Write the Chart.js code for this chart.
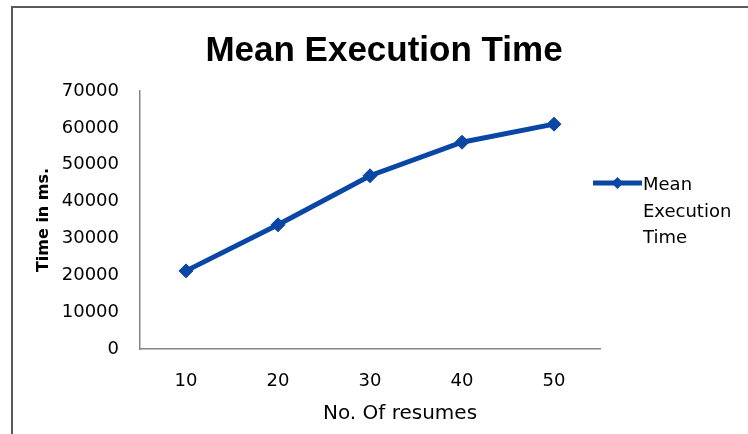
<!DOCTYPE html>
<html>
<head>
<meta charset="utf-8">
<script src="https://cdn.jsdelivr.net/npm/chart.js@4"></script>
<style>
  html, body { margin: 0; padding: 0; background: #fff; overflow: hidden; }
  #wrap { position: relative; width: 748px; height: 434px; }
  #frame { position: absolute; left: 11px; top: 6px; width: 800px; height: 500px; border: 2px solid #5a5a5a; }
  canvas { position: absolute; left: 0; top: 0; }
</style>
</head>
<body>
<div id="wrap">
  <div id="frame"></div>
  <canvas id="chart" width="748" height="434"></canvas>
</div>
<script>
// --- data ---
const resumes = ['10', '20', '30', '40', '50'];
const meanTime = [21200, 33700, 47000, 56100, 61000];
const seriesName = 'Mean Execution Time';
const yMin = 0, yMax = 70000, yStep = 10000;

const blue = '#0a46a3';
const axisGrey = '#868686';

// legend on the right (wrapped text) + x axis caption
const sideLegend = {
    id: 'sideLegend',
    afterDraw(chart) {
        const c = chart.ctx;
        const a = chart.chartArea;
        const ds = chart.data.datasets[0];

        c.save();
        // x caption
        c.fillStyle = '#000';
        c.font = '20px "DejaVu Sans"';
        c.textAlign = 'center';
        c.textBaseline = 'alphabetic';
        c.fillText('No. Of resumes', (a.left + a.right) / 2 + 30, 419);

        // legend sample
        const x0 = a.right - 7, x1 = a.right + 42, ly = a.top + 92;
        c.strokeStyle = ds.borderColor;
        c.lineWidth = 5;
        c.beginPath();
        c.moveTo(x0, ly);
        c.lineTo(x1, ly);
        c.stroke();
        const cx = (x0 + x1) / 2, r = 6;
        c.fillStyle = ds.borderColor;
        c.beginPath();
        c.moveTo(cx, ly - r);
        c.lineTo(cx + r, ly);
        c.lineTo(cx, ly + r);
        c.lineTo(cx - r, ly);
        c.closePath();
        c.fill();

        // legend text, one word per line
        c.fillStyle = '#000';
        c.font = '18px "DejaVu Sans"';
        c.textAlign = 'left';
        ds.label.split(' ').forEach((w, i) => {
            c.fillText(w, a.right + 43, a.top + 99 + i * 26.5);
        });
        c.restore();
    }
};

const ctx = document.getElementById('chart').getContext('2d');
new Chart(ctx, {
    type: 'line',
    data: {
        labels: resumes,
        datasets: [{
            label: seriesName,
            data: meanTime,
            borderColor: blue,
            backgroundColor: blue,
            borderWidth: 5,
            pointStyle: 'rectRot',
            pointRadius: 7,
            pointBackgroundColor: blue,
            pointBorderColor: blue,
            pointBorderWidth: 1,
            tension: 0,
            fill: false
        }]
    },
    options: {
        responsive: false,
        animation: false,
        layout: { padding: { left: 20, right: 0, top: 0, bottom: 0 } },
        plugins: {
            legend: { display: false },
            tooltip: { enabled: false },
            title: {
                display: true,
                text: 'Mean Execution Time',
                color: '#000',
                font: { family: '"Liberation Sans"', size: 35, weight: 'bold', lineHeight: 1.2 },
                padding: { top: 30, bottom: 19 }
            }
        },
        scales: {
            x: {
                type: 'category',
                offset: true,
                grid: { display: false, drawTicks: false },
                border: { display: true, color: axisGrey, width: 1.5 },
                ticks: { color: '#000', padding: 22, font: { family: '"DejaVu Sans"', size: 18 } },
                afterFit: s => { s.height = 85; }
            },
            y: {
                min: yMin,
                max: yMax,
                grid: { display: false, drawTicks: false },
                border: { display: true, color: axisGrey, width: 1.5 },
                ticks: {
                    stepSize: yStep,
                    color: '#000',
                    padding: 21,
                    font: { family: '"DejaVu Sans"', size: 18 },
                    callback: v => String(v)
                },
                title: {
                    display: true,
                    text: 'Time in ms.',
                    color: '#000',
                    font: { family: '"DejaVu Sans"', size: 16, weight: 'bold' },
                    padding: { top: 14, bottom: 0 }
                },
                afterFit: s => { s.width = 120; }
            },
            // empty right-hand axis only keeps room for the legend
            side: {
                type: 'linear',
                position: 'right',
                grid: { display: false, drawTicks: false },
                border: { display: false },
                ticks: { display: false },
                afterFit: s => { s.width = 148; }
            }
        }
    },
    plugins: [sideLegend]
});
</script>
</body>
</html>
